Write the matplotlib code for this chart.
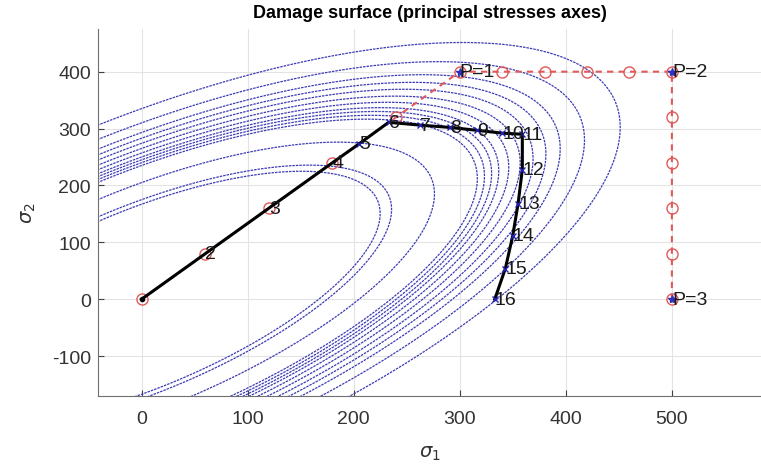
import matplotlib.pyplot as plt
import numpy as np

plt.rcParams['font.family'] = ['Liberation Sans', 'DejaVu Sans']
plt.rcParams['axes.unicode_minus'] = False

# imposed (strain) path, one point per step, red
path_s1 = [0, 60, 120, 180, 240, 300, 340, 380, 420, 460, 500, 500, 500, 500, 500, 500]
path_s2 = [0, 80, 160, 240, 320, 400, 400, 400, 400, 400, 400, 320, 240, 160, 80, 0]

# actual stress path, black
stress_s1 = [0, 60, 120, 180, 205, 233, 263, 291, 316, 340, 359, 359, 355, 350, 343, 333]
stress_s2 = [0, 80, 160, 240, 273, 311, 306, 302, 297, 292, 290, 228, 168, 112, 54, 0]
step_labels = [str(i) for i in range(1, 17)]

# load-change points
p_s1 = [300, 500, 500]
p_s2 = [400, 400, 0]
p_labels = ['P=1', 'P=2', 'P=3']

# damage thresholds r of the surfaces drawn
thresholds = [167, 175, 205, 235, 240, 245, 250, 257, 265, 274, 283, 293, 310, 335]
nu = 0.67


def energy_norm(s1, s2):
    return np.sqrt(s1 ** 2 + s2 ** 2 - 2 * nu * s1 * s2)


def main():
    fig = plt.figure(figsize=(7.61, 4.77), dpi=100)
    ax = fig.add_axes([0.1288, 0.1677, 0.8712, 0.7694])

    xx, yy = np.meshgrid(np.linspace(-45, 590, 900), np.linspace(-175, 480, 900))
    ax.contour(xx, yy, energy_norm(xx, yy), levels=thresholds,
               colors='#3c3cb4', linewidths=0.9, linestyles=[(0, (2.0, 0.8))], zorder=2)

    ax.plot(path_s1, path_s2, '--o', color='#e05a5a', lw=1.5, dashes=(3, 2.5),
            markersize=8, markerfacecolor='none', markeredgewidth=1.0, zorder=3)
    ax.plot(stress_s1, stress_s2, '-', color='black', lw=2.2, zorder=4)
    ax.plot(stress_s1[0], stress_s2[0], '.', color='black', markersize=6, zorder=5)
    ax.plot(stress_s1[4:], stress_s2[4:], 'x', color='#2020b0', markersize=4, mew=1, zorder=5)
    ax.plot(p_s1, p_s2, '*', color='#3030c0', markersize=6, zorder=5)

    for x, y, t in zip(stress_s1[1:], stress_s2[1:], step_labels[1:]):
        ax.text(x, y, t, fontsize=14, color='#1a1a1a', ha='left', va='center', zorder=6)
    for x, y, t in zip(p_s1, p_s2, p_labels):
        ax.text(x, y, t, fontsize=14, color='#1a1a1a', ha='left', va='center', zorder=6)

    ax.set_xlim(-41, 584)
    ax.set_ylim(-170, 475)
    ax.set_xticks(np.arange(0, 501, 100))
    ax.set_yticks(np.arange(-100, 401, 100))
    ax.grid(True, color='#e3e3e3', lw=0.8)
    ax.set_axisbelow(True)
    ax.tick_params(direction='in', length=4, labelsize=14, colors='#404040', labelcolor='#333333')
    ax.tick_params(axis='x', pad=10)
    ax.tick_params(axis='y', pad=5)
    for side in ['top', 'right']:
        ax.spines[side].set_visible(False)
    for side in ['left', 'bottom']:
        ax.spines[side].set_color('#707070')

    ax.set_title('Damage surface (principal stresses axes)', fontsize=13, fontweight='bold', pad=9)
    ax.set_xlabel(r'$\sigma_1$', fontsize=14, color='#333333', labelpad=12)
    ax.set_ylabel(r'$\sigma_2$', fontsize=14, color='#333333', labelpad=10)

    fig.savefig('out.png', dpi=100)


if __name__ == '__main__':
    main()
